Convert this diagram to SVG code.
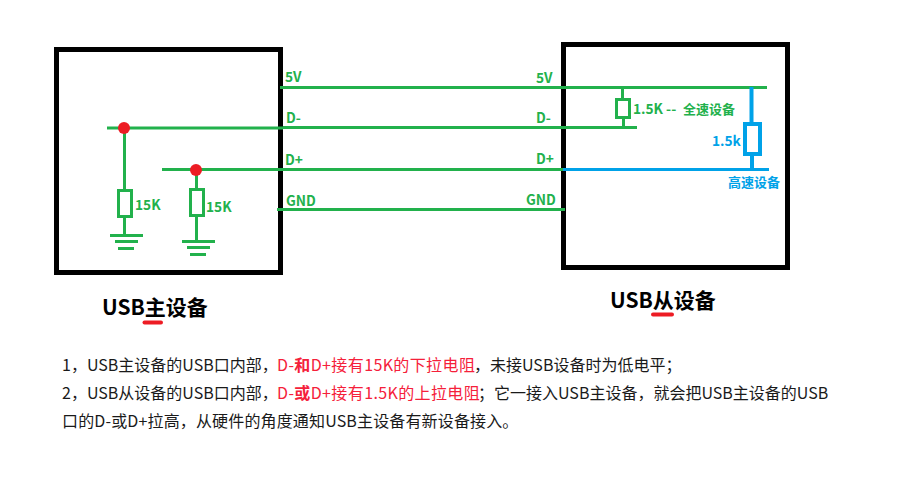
<svg xmlns="http://www.w3.org/2000/svg" width="905" height="500" viewBox="0 0 905 500">
<style>
.box{fill:none;stroke:#000;stroke-width:5}
.g{fill:none;stroke:#22b14c;stroke-width:3}
.b{fill:none;stroke:#00a2e8;stroke-width:3}
.bt{fill:none;stroke:#00a2e8;stroke-width:4}
.dot{fill:#ed1c24}
.mark{stroke:#ed1c24;stroke-width:4;stroke-linecap:round}
text{font-family:"Noto Sans CJK SC","Open Sans",sans-serif}
.lg{font-size:13.7px;font-weight:700;fill:#22b14c}
.lb{font-size:13.7px;font-weight:700;fill:#00a2e8}
.title{font-size:21px;font-weight:700;fill:#000}
.p{font-size:16px;fill:#1a1a1a}
.r{fill:#f5203a;letter-spacing:.38px}
.rb{font-weight:700}
</style>
<rect width="905" height="500" fill="#fff"/>
<g id="usb-host"><rect class="box" x="56.5" y="49.5" width="224" height="223"/><text class="title" x="102" y="315">USB主设备</text><line class="mark" x1="144.500" y1="322.500" x2="161" y2="322.500"/></g>
<g id="usb-device"><rect class="box" x="563.500" y="44.500" width="224" height="223"/><text class="title" x="610" y="308">USB从设备</text><line class="mark" x1="653" y1="314.500" x2="672" y2="314.500"/></g>
<g id="connectors">
<path class="g" d="M280 87.500H767M107 128H283M283 127.500H637M162 169.500H563M277 209.500H565"/>
<path class="b" d="M563 169.500H769"/>
</g>
<g id="r-host-dminus"><path class="g" d="M124.500 128V190M124.500 217V235"/><rect class="g" x="118.500" y="190.500" width="13" height="26"/><circle class="dot" cx="124" cy="128" r="6"/><text class="lg" x="135" y="210">15K</text></g>
<g id="gnd-1"><path class="g" d="M110 235.500H143M115 241.500H138M118 248.500H134"/></g>
<g id="r-host-dplus"><path class="g" d="M196.500 170V189M196.500 216V241"/><rect class="g" x="190.500" y="189.500" width="13" height="26"/><circle class="dot" cx="196" cy="170" r="6"/><text class="lg" x="206" y="212">15K</text></g>
<g id="gnd-2"><path class="g" d="M182 241.500H215M187 247.500H210M190 254.500H206"/></g>
<g id="r-device-full"><path class="g" d="M622.500 87V99M623.500 118V128"/><rect class="g" x="616.500" y="99.500" width="13" height="18"/><text class="lg" x="633" y="114">1.5K -- <tspan x="683" style="font-size:13px">全速设备</tspan></text></g>
<g id="r-device-high"><path class="bt" d="M751.500 87V123M752 154V169"/><rect class="bt" x="745" y="124" width="15" height="30"/><text class="lb" x="712" y="146">1.5k</text><text class="lb" x="728" y="187" style="font-size:13px">高速设备</text></g>
<g id="labels">
<text class="lg" x="285" y="82">5V</text><text class="lg" x="536" y="83">5V</text>
<text class="lg" x="286" y="123">D-</text><text class="lg" x="536" y="123">D-</text>
<text class="lg" x="285" y="165">D+</text><text class="lg" x="536" y="164">D+</text>
<text class="lg" x="286" y="206">GND</text><text class="lg" x="526" y="205">GND</text>
</g>
<g id="notes">
<text class="p" x="62" y="371">1，USB主设备的USB口内部，<tspan class="r" x="277">D-<tspan class="rb">和</tspan>D+接有15K的下拉电阻</tspan><tspan x="474">，未接USB设备时为低电平；</tspan></text>
<text class="p" x="62" y="399">2，USB从设备的USB口内部，<tspan class="r" x="277">D-<tspan class="rb">或</tspan>D+接有1.5K的上拉电阻</tspan><tspan x="478">；它一接入USB主设备，就会把USB主设备的USB</tspan></text>
<text class="p" x="62" y="427" letter-spacing=".15">口的D-或D+拉高，从硬件的角度通知USB主设备有新设备接入。</text>
</g>
</svg>
